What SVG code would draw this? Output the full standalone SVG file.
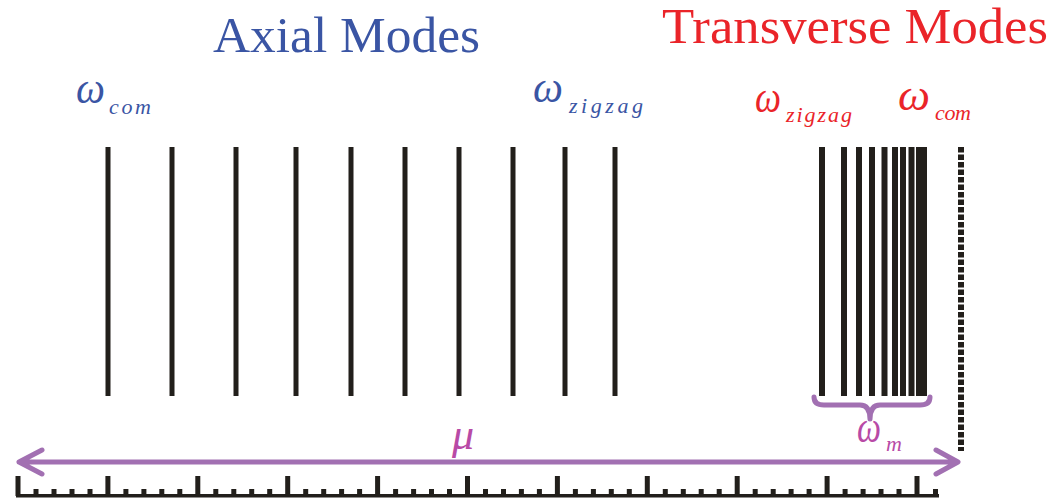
<svg xmlns="http://www.w3.org/2000/svg" width="1061" height="500" viewBox="0 0 1061 500">
<defs>
<style>
.title{font-family:"Liberation Serif",serif;font-size:50px}
.blue{fill:#3a55a4}
.red{fill:#ea2429}
.mag{fill:#b84aa6}
.w{font-family:"Liberation Serif",serif;font-style:italic;font-size:44px}
.sub{font-family:"Liberation Serif",serif;font-style:italic;font-size:22px}
.mode{stroke:#221f1b;stroke-width:5;fill:none}
.tmode{stroke:#221f1b;stroke-width:6;fill:none}
.ink{stroke:#221f1b;stroke-width:5;fill:none}
.purple{stroke:#a270b2;stroke-width:5;fill:none;stroke-linecap:round;stroke-linejoin:round}
</style>
</defs>
<rect width="1061" height="500" fill="#ffffff"/>
<g id="title-axial"><text class="title blue" x="213" y="52" textLength="267" lengthAdjust="spacingAndGlyphs">Axial Modes</text></g>
<g id="title-transverse"><text class="title red" x="662" y="43" textLength="386" lengthAdjust="spacingAndGlyphs">Transverse Modes</text></g>
<g id="label-axial-com"><text class="w blue" x="76" y="103" textLength="29" lengthAdjust="spacingAndGlyphs">ω</text><text class="sub blue" x="109" y="114" textLength="42">com</text></g>
<g id="label-axial-zigzag"><text class="w blue" x="533" y="102" textLength="30" lengthAdjust="spacingAndGlyphs">ω</text><text class="sub blue" x="569" y="113" textLength="74">zigzag</text></g>
<g id="label-trans-zigzag"><text class="w red" x="755" y="112" textLength="26" lengthAdjust="spacingAndGlyphs">ω</text><text class="sub red" x="786" y="122" textLength="66">zigzag</text></g>
<g id="label-trans-com"><text class="w red" x="898" y="110" textLength="32" lengthAdjust="spacingAndGlyphs">ω</text><text class="sub red" x="935" y="120" textLength="36">com</text></g>
<g id="axial-modes">
<path class="mode" d="M108 147V396M172 147V396M236 147V396M296 147V396M351 147V396M405 147V396M459 147V396M513 147V396M565 147V396M615 147V396"/>
</g>
<g id="transverse-modes">
<path class="tmode" d="M822 147V396M844 147V396M859 147V396M872 147V396M884.5 147V396M895 147V396M903 147V396M911.5 147V396"/>
<rect x="916" y="147" width="11" height="249" fill="#221f1b"/>
<path d="M961 147V451" stroke="#221f1b" stroke-width="6" stroke-dasharray="5.5 2" fill="none"/>
</g>
<g id="ruler">
<rect x="16" y="494" width="923" height="3.5" fill="#221f1b"/>
<path class="ink" d="M18 476V496M107.9 476V496M197.8 476V496M287.7 476V496M377.6 476V496M467.5 476V496M557.4 476V496M647.3 476V496M737.2 476V496M827.1 476V496M917 476V496"/>
<path class="ink" d="M36 489V496M54 489V496M72 489V496M90 489V496M125.9 489V496M143.9 489V496M161.8 489V496M179.8 489V496M215.8 489V496M233.8 489V496M251.7 489V496M269.7 489V496M305.7 489V496M323.7 489V496M341.6 489V496M359.6 489V496M395.6 489V496M413.6 489V496M431.5 489V496M449.5 489V496M485.5 489V496M503.5 489V496M521.4 489V496M539.4 489V496M575.4 489V496M593.4 489V496M611.3 489V496M629.3 489V496M665.3 489V496M683.3 489V496M701.2 489V496M719.2 489V496M755.2 489V496M773.2 489V496M791.1 489V496M809.1 489V496M845.1 489V496M863.1 489V496M881 489V496M899 489V496M935.5 489V496"/>
</g>
<g id="connectors">
<path class="purple" d="M19 462H956M42 450L19 462L42 474M936 450L958 462L936 474"/>
<path class="purple" d="M814 397Q814 405 824 405H860Q870 405 870 419Q870 405 880 405H920Q930 405 930 397"/>
</g>
<g id="label-mu"><text class="w mag" x="452" y="449" font-size="30">μ</text></g>
<g id="label-omega-m"><text class="w mag" x="857" y="442" font-size="34" textLength="24" lengthAdjust="spacingAndGlyphs">ω</text><text class="sub mag" x="886" y="451" font-size="16">m</text></g>
</svg>
